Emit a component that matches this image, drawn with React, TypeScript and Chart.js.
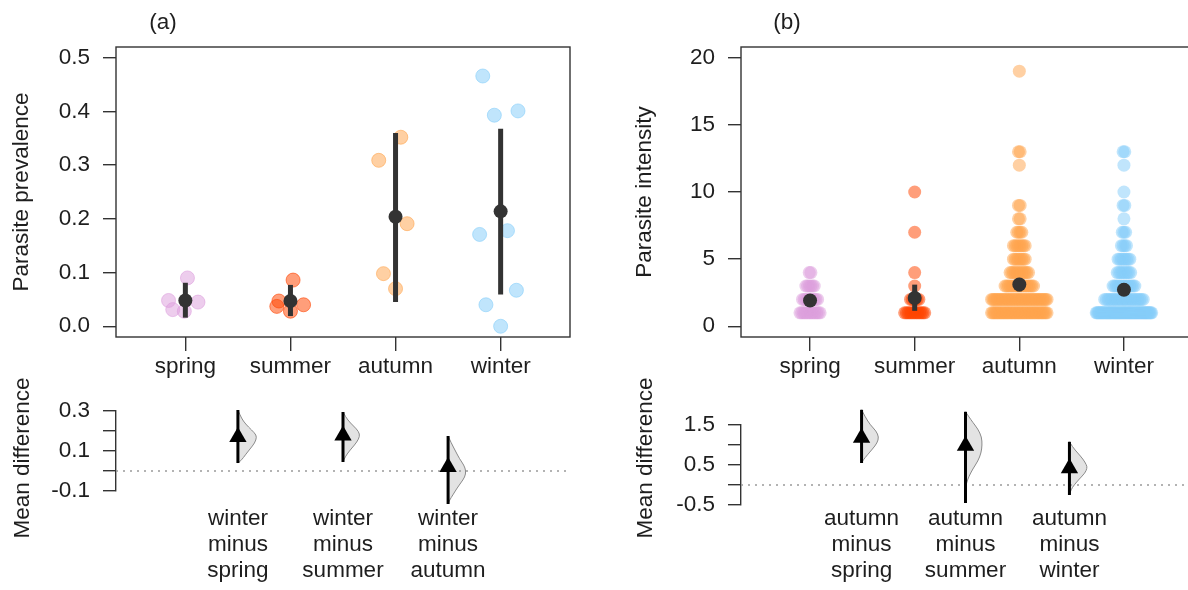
import React, { useEffect, useRef } from 'react';
import { Chart, registerables } from 'chart.js';

Chart.register(...registerables);

// ---------------- data ----------------
const seasons = ['spring', 'summer', 'autumn', 'winter'];
const seasonColors = ['#DDA0DD', '#FF4500', '#FFA54F', '#87CEFA'];
const xRange = [0.34, 4.66];

// (a) parasite prevalence (one point per site, with horizontal jitter in category units)
const prevSpring = [0.09, 0.048, 0.045, 0.031, 0.028];
const prevSpringJitter = [0.02, -0.16, 0.12, -0.12, -0.01];
const prevSummer = [0.086, 0.047, 0.04, 0.037, 0.028];
const prevSummerJitter = [0.025, -0.11, 0.125, -0.13, 0.0];
const prevAutumn = [0.352, 0.309, 0.191, 0.098, 0.07];
const prevAutumnJitter = [0.05, -0.16, 0.11, -0.115, 0.0];
const prevWinter = [0.466, 0.393, 0.401, 0.171, 0.178, 0.04, 0.067, 0.0];
const prevWinterJitter = [-0.17, -0.06, 0.165, -0.2, 0.065, -0.14, 0.15, 0.0];
const prevMean = [0.048, 0.047, 0.204, 0.214];
const prevCiLow = [0.016, 0.019, 0.045, 0.059];
const prevCiHigh = [0.081, 0.077, 0.36, 0.368];
const prevTicks = [0, 0.1, 0.2, 0.3, 0.4, 0.5];

// (a) mean differences
const diffAPos = [1.5, 2.5, 3.5];
const diffALabels = [
  ['winter', 'minus', 'spring'],
  ['winter', 'minus', 'summer'],
  ['winter', 'minus', 'autumn'],
];
const diffAMean = [0.17, 0.178, 0.02];
const diffACiLow = [0.04, 0.045, -0.165];
const diffACiHigh = [0.305, 0.295, 0.175];
const diffATicks = [-0.1, 0, 0.1, 0.2, 0.3];
const diffATickLabels = ['-0.1', '', '0.1', '', '0.3'];
// bootstrap density outlines (y value, half-width in category units)
const densA1Y = [0.305, 0.28, 0.25, 0.22, 0.19, 0.17, 0.14, 0.11, 0.08, 0.055, 0.04];
const densA1W = [0, 0.02, 0.05, 0.1, 0.16, 0.18, 0.16, 0.115, 0.07, 0.035, 0];
const densA2Y = [0.295, 0.27, 0.24, 0.21, 0.185, 0.16, 0.13, 0.1, 0.07, 0.045];
const densA2W = [0, 0.025, 0.07, 0.13, 0.16, 0.15, 0.11, 0.06, 0.02, 0];
const densA3Y = [0.175, 0.14, 0.1, 0.06, 0.03, 0.0, -0.03, -0.06, -0.09, -0.12, -0.145, -0.165];
const densA3W = [0, 0.03, 0.07, 0.11, 0.15, 0.17, 0.16, 0.12, 0.08, 0.045, 0.015, 0];

// (b) parasite intensity: number of hosts at each intensity level
const springLevels = [1, 2, 3, 4];
const springCounts = [13, 10, 6, 2];
const summerLevels = [1, 2, 3, 4, 7, 10];
const summerCounts = [13, 6, 1, 1, 1, 1];
const autumnLevels = [1, 2, 3, 4, 5, 6, 7, 8, 9, 12, 13, 19];
const autumnCounts = [40, 40, 18, 12, 8, 8, 4, 2, 2, 1, 2, 1];
const winterLevels = [1, 2, 3, 4, 5, 6, 7, 8, 9, 10, 12, 13];
const winterCounts = [56, 24, 14, 9, 8, 4, 3, 1, 2, 1, 1, 2];
const intMean = [1.92, 2.11, 3.11, 2.72];
const intCiLow = [1.5, 1.15, 2.6, 2.3];
const intCiHigh = [2.4, 3.1, 3.6, 3.2];
const intTicks = [0, 5, 10, 15, 20];

// (b) mean differences
const diffBPos = [1.5, 2.5, 3.5];
const diffBLabels = [
  ['autumn', 'minus', 'spring'],
  ['autumn', 'minus', 'summer'],
  ['autumn', 'minus', 'winter'],
];
const diffBMean = [1.18, 0.98, 0.42];
const diffBCiLow = [0.55, -0.45, -0.25];
const diffBCiHigh = [1.88, 1.83, 1.08];
const diffBTicks = [-0.5, 0, 0.5, 1, 1.5];
const diffBTickLabels = ['-0.5', '', '0.5', '', '1.5'];
const densB1Y = [1.88, 1.7, 1.5, 1.35, 1.2, 1.05, 0.9, 0.75, 0.62, 0.55];
const densB1W = [0, 0.035, 0.085, 0.14, 0.166, 0.15, 0.105, 0.055, 0.015, 0];
const densB2Y = [1.83, 1.6, 1.4, 1.2, 1.0, 0.8, 0.6, 0.4, 0.2, 0.05, -0.1];
const densB2W = [0, 0.06, 0.12, 0.155, 0.16, 0.15, 0.12, 0.07, 0.03, 0.01, 0];
const densB3Y = [1.08, 0.95, 0.8, 0.65, 0.5, 0.42, 0.3, 0.15, 0.0, -0.12, -0.25];
const densB3W = [0, 0.03, 0.08, 0.13, 0.165, 0.17, 0.15, 0.095, 0.045, 0.015, 0];

// ---------------- styling ----------------
const FONT = '"Liberation Sans", Arial, Helvetica, sans-serif';
const INK = '#333333';
const TEXT = '#1e1e1e';
const FS = 22.5;
const SWARM_STEP = 0.016;
const SWARM_MAX_SPAN = 0.53;

Chart.defaults.font.family = FONT;
Chart.defaults.font.size = FS;
Chart.defaults.color = TEXT;

function alpha(hex: string, a: number) {
  const n = parseInt(hex.slice(1), 16);
  return `rgba(${(n >> 16) & 255},${(n >> 8) & 255},${n & 255},${a})`;
}

function jittered(vals: number[], jit: number[], center: number) {
  return vals.map((v, i) => ({ x: center + jit[i], y: v }));
}

// beeswarm-like row layout of identical values around the category centre
function swarm(levels: number[], counts: number[], center: number) {
  const pts: { x: number; y: number }[] = [];
  levels.forEach((lv, k) => {
    const n = counts[k];
    const span = Math.min((n - 1) * SWARM_STEP, SWARM_MAX_SPAN);
    for (let i = 0; i < n; i++) {
      const off = n === 1 ? 0 : -span / 2 + (i * span) / (n - 1);
      pts.push({ x: center + off, y: lv });
    }
  });
  return pts;
}

const fixWidth = (w: number) => (axis: any) => {
  axis.width = w;
};
const fixHeight = (h: number) => (axis: any) => {
  axis.height = h;
};
const setTicks = (vals: number[]) => (axis: any) => {
  axis.ticks = vals.map((v) => ({ value: v }));
};

const boxPlugin = {
  id: 'box',
  afterDatasetsDraw(chart: any) {
    const { ctx, chartArea: a } = chart;
    ctx.save();
    ctx.strokeStyle = INK;
    ctx.lineWidth = 1.4;
    ctx.strokeRect(a.left, a.top, a.right - a.left, a.bottom - a.top);
    ctx.restore();
  },
};

function violinPlugin(items: { pos: number; ys: number[]; ws: number[] }[]) {
  return {
    id: 'violins',
    beforeDatasetsDraw(chart: any) {
      const { ctx } = chart;
      const xs = chart.scales.x;
      const ys = chart.scales.y;
      ctx.save();
      items.forEach((v) => {
        const p = v.ys.map((yy, i) => [xs.getPixelForValue(v.pos + v.ws[i]), ys.getPixelForValue(yy)]);
        ctx.beginPath();
        ctx.moveTo(p[0][0], p[0][1]);
        for (let i = 1; i < p.length - 1; i++) {
          const mx = (p[i][0] + p[i + 1][0]) / 2;
          const my = (p[i][1] + p[i + 1][1]) / 2;
          ctx.quadraticCurveTo(p[i][0], p[i][1], mx, my);
        }
        ctx.lineTo(p[p.length - 1][0], p[p.length - 1][1]);
        ctx.closePath();
        ctx.fillStyle = '#e3e3e3';
        ctx.fill();
        ctx.strokeStyle = '#8a8a8a';
        ctx.lineWidth = 1;
        ctx.stroke();
      });
      ctx.restore();
    },
  };
}

function ciLines(pos: number[], lo: number[], hi: number[], color: string, width: number, order: number) {
  return pos.map((p, i) => ({
    type: 'line',
    data: [
      { x: p, y: lo[i] },
      { x: p, y: hi[i] },
    ],
    borderColor: color,
    borderWidth: width,
    pointRadius: 0,
    clip: false,
    order,
  }));
}

function topConfig(opts: {
  points: any[];
  mean: number[];
  lo: number[];
  hi: number[];
  yMin: number;
  yMax: number;
  yTicks: number[];
  yFmt: (v: number) => string;
  yWidth: number;
  padRight: number;
  title: string;
  titlePad: number;
  pointRadius: number;
  ciWidth: number;
}) {
  const cats = [1, 2, 3, 4];
  const datasets: any[] = [];
  opts.points.forEach((pts, i) => {
    datasets.push({
      type: 'scatter',
      data: pts,
      backgroundColor: alpha(seasonColors[i], 0.52),
      borderColor: alpha(seasonColors[i], 0.6),
      borderWidth: opts.pointRadius > 6.8 ? 1 : 0,
      pointRadius: opts.pointRadius,
      order: 3,
    });
  });
  datasets.push(...ciLines(cats, opts.lo, opts.hi, INK, opts.ciWidth, 1));
  datasets.push({
    type: 'scatter',
    data: cats.map((c, i) => ({ x: c, y: opts.mean[i] })),
    backgroundColor: INK,
    borderWidth: 0,
    pointRadius: 7,
    order: 0,
  });
  return {
    type: 'scatter',
    data: { datasets },
    options: {
      responsive: false,
      animation: false,
      devicePixelRatio: 1,
      events: [],
      layout: { padding: { left: 0, top: 47, right: opts.padRight, bottom: 0 } },
      plugins: { legend: { display: false }, tooltip: { enabled: false } },
      scales: {
        x: {
          type: 'linear',
          min: xRange[0],
          max: xRange[1],
          afterBuildTicks: setTicks(cats),
          afterFit: fixHeight(63),
          ticks: {
            callback: (v: number) => seasons[Math.round(v) - 1],
            padding: 2,
            color: TEXT,
            maxRotation: 0,
            autoSkip: false,
            font: { size: FS },
          },
          grid: { display: true, drawOnChartArea: false, drawTicks: true, tickLength: 14, color: INK, lineWidth: 1.4 },
          border: { display: false },
        },
        y: {
          type: 'linear',
          min: opts.yMin,
          max: opts.yMax,
          afterBuildTicks: setTicks(opts.yTicks),
          afterFit: fixWidth(opts.yWidth),
          ticks: { callback: opts.yFmt, padding: 13, color: TEXT, autoSkip: false, font: { size: FS } },
          grid: { display: true, drawOnChartArea: false, drawTicks: true, tickLength: 13, color: INK, lineWidth: 1.4 },
          border: { display: false },
          title: {
            display: true,
            text: opts.title,
            color: TEXT,
            font: { size: FS },
            padding: { top: opts.titlePad, bottom: 0 },
          },
        },
      },
    },
    plugins: [boxPlugin],
  };
}

function diffConfig(opts: {
  pos: number[];
  labels: string[][];
  mean: number[];
  lo: number[];
  hi: number[];
  yTicks: number[];
  yLabels: string[];
  yWidth: number;
  padTop: number;
  padRight: number;
  xHeight: number;
  labelPad: number;
  violins: { pos: number; ys: number[]; ws: number[] }[];
}) {
  const datasets: any[] = [];
  datasets.push({
    type: 'line',
    data: [
      { x: xRange[0], y: 0 },
      { x: xRange[1], y: 0 },
    ],
    borderColor: '#9a9a9a',
    borderWidth: 1.5,
    borderDash: [2, 5],
    pointRadius: 0,
    clip: false,
    order: 3,
  });
  datasets.push(...ciLines(opts.pos, opts.lo, opts.hi, '#000000', 3, 1));
  datasets.push({
    type: 'scatter',
    data: opts.pos.map((p, i) => ({ x: p, y: opts.mean[i] })),
    pointStyle: 'triangle',
    pointRadius: 10,
    backgroundColor: '#000000',
    borderWidth: 0,
    clip: false,
    order: 0,
  });
  return {
    type: 'scatter',
    data: { datasets },
    options: {
      responsive: false,
      animation: false,
      devicePixelRatio: 1,
      events: [],
      layout: { padding: { left: 0, top: opts.padTop, right: opts.padRight, bottom: 0 } },
      plugins: { legend: { display: false }, tooltip: { enabled: false } },
      scales: {
        x: {
          type: 'linear',
          min: xRange[0],
          max: xRange[1],
          afterBuildTicks: setTicks(opts.pos),
          afterFit: fixHeight(opts.xHeight),
          ticks: {
            callback: (_v: number, i: number) => opts.labels[i],
            padding: opts.labelPad,
            color: TEXT,
            maxRotation: 0,
            autoSkip: false,
            font: { size: FS, lineHeight: 1.156 },
          },
          grid: { display: false, drawOnChartArea: false, drawTicks: false },
          border: { display: false },
        },
        y: {
          type: 'linear',
          min: opts.yTicks[0],
          max: opts.yTicks[opts.yTicks.length - 1],
          afterBuildTicks: setTicks(opts.yTicks),
          afterFit: fixWidth(opts.yWidth),
          ticks: {
            callback: (_v: number, i: number) => opts.yLabels[i],
            padding: 13,
            color: TEXT,
            autoSkip: false,
            font: { size: FS },
          },
          grid: { display: true, drawOnChartArea: false, drawTicks: true, tickLength: 13, color: INK, lineWidth: 1.4 },
          border: { display: true, color: INK, width: 1.4 },
        },
      },
    },
    plugins: [violinPlugin(opts.violins)],
  };
}

const textStyle: React.CSSProperties = {
  position: 'absolute',
  fontFamily: FONT,
  fontSize: FS,
  color: TEXT,
  lineHeight: '26px',
  whiteSpace: 'nowrap',
  textAlign: 'center',
};

function PanelLabel({ text, cx, cy }: { text: string; cx: number; cy: number }) {
  return <div style={{ ...textStyle, left: cx - 50, top: cy - 13, width: 100 }}>{text}</div>;
}

function VerticalLabel({ text, cx, cy }: { text: string; cx: number; cy: number }) {
  return (
    <div
      style={{
        ...textStyle,
        left: cx - 120,
        top: cy - 13,
        width: 240,
        height: 26,
        transform: 'rotate(-90deg)',
        transformOrigin: '50% 50%',
      }}
    >
      {text}
    </div>
  );
}

export default function App() {
  const topA = useRef<HTMLCanvasElement>(null);
  const botA = useRef<HTMLCanvasElement>(null);
  const topB = useRef<HTMLCanvasElement>(null);
  const botB = useRef<HTMLCanvasElement>(null);

  useEffect(() => {
    const charts: Chart[] = [];
    charts.push(
      new Chart(
        topA.current as HTMLCanvasElement,
        topConfig({
          points: [
            jittered(prevSpring, prevSpringJitter, 1),
            jittered(prevSummer, prevSummerJitter, 2),
            jittered(prevAutumn, prevAutumnJitter, 3),
            jittered(prevWinter, prevWinterJitter, 4),
          ],
          mean: prevMean,
          lo: prevCiLow,
          hi: prevCiHigh,
          yMin: -0.02,
          yMax: 0.52,
          yTicks: prevTicks,
          yFmt: (v: number) => v.toFixed(1),
          yWidth: 116,
          padRight: 24,
          title: 'Parasite prevalence',
          titlePad: 8.5,
          pointRadius: 7,
          ciWidth: 5,
        }) as any
      )
    );
    charts.push(
      new Chart(
        botA.current as HTMLCanvasElement,
        diffConfig({
          pos: diffAPos,
          labels: diffALabels,
          mean: diffAMean,
          lo: diffACiLow,
          hi: diffACiHigh,
          yTicks: diffATicks,
          yLabels: diffATickLabels,
          yWidth: 116,
          padTop: 31,
          padRight: 24,
          xHeight: 99,
          labelPad: 15,
          violins: [
            { pos: diffAPos[0], ys: densA1Y, ws: densA1W },
            { pos: diffAPos[1], ys: densA2Y, ws: densA2W },
            { pos: diffAPos[2], ys: densA3Y, ws: densA3W },
          ],
        }) as any
      )
    );
    charts.push(
      new Chart(
        topB.current as HTMLCanvasElement,
        topConfig({
          points: [
            swarm(springLevels, springCounts, 1),
            swarm(summerLevels, summerCounts, 2),
            swarm(autumnLevels, autumnCounts, 3),
            swarm(winterLevels, winterCounts, 4),
          ],
          mean: intMean,
          lo: intCiLow,
          hi: intCiHigh,
          yMin: -0.8,
          yMax: 20.8,
          yTicks: intTicks,
          yFmt: (v: number) => String(Math.round(v)),
          yWidth: 147,
          padRight: 6,
          title: 'Parasite intensity',
          titlePad: 37.5,
          pointRadius: 6.5,
          ciWidth: 5,
        }) as any
      )
    );
    charts.push(
      new Chart(
        botB.current as HTMLCanvasElement,
        diffConfig({
          pos: diffBPos,
          labels: diffBLabels,
          mean: diffBMean,
          lo: diffBCiLow,
          hi: diffBCiHigh,
          yTicks: diffBTicks,
          yLabels: diffBTickLabels,
          yWidth: 147,
          padTop: 45,
          padRight: 6,
          xHeight: 85,
          labelPad: 1,
          violins: [
            { pos: diffBPos[0], ys: densB1Y, ws: densB1W },
            { pos: diffBPos[1], ys: densB2Y, ws: densB2W },
            { pos: diffBPos[2], ys: densB3Y, ws: densB3W },
          ],
        }) as any
      )
    );
    return () => charts.forEach((c) => c.destroy());
  }, []);

  return (
    <div
      style={{
        position: 'fixed',
        left: 0,
        top: 0,
        width: 1188,
        height: 590,
        overflow: 'hidden',
        background: '#ffffff',
      }}
    >
      <canvas ref={topA} width={594} height={400} style={{ position: 'absolute', left: 0, top: 0 }} />
      <canvas ref={botA} width={594} height={210} style={{ position: 'absolute', left: 0, top: 380 }} />
      <canvas ref={topB} width={606} height={400} style={{ position: 'absolute', left: 594, top: 0 }} />
      <canvas ref={botB} width={606} height={210} style={{ position: 'absolute', left: 594, top: 380 }} />
      <PanelLabel text="(a)" cx={163} cy={22} />
      <PanelLabel text="(b)" cx={787} cy={22} />
      <VerticalLabel text="Mean difference" cx={22} cy={458} />
      <VerticalLabel text="Mean difference" cx={645} cy={458} />
    </div>
  );
}
